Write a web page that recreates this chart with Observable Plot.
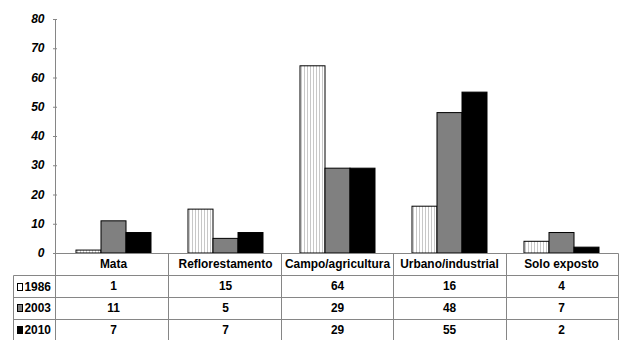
<!DOCTYPE html>
<html>
<head>
<meta charset="utf-8">
<script src="https://cdn.jsdelivr.net/npm/d3@7"></script>
<script src="https://cdn.jsdelivr.net/npm/@observablehq/plot@0.6"></script>
<style>
  body { margin: 0; background: #fff; }
  #chart svg { display: block; }
</style>
</head>
<body>
<div id="chart"></div>
<script>
// Land-use classes and the share (%) of each class per survey year
const categories = ["Mata", "Reflorestamento", "Campo/agricultura", "Urbano/industrial", "Solo exposto"];
const years = ["1986", "2003", "2010"];
const values1986 = [1, 15, 64, 16, 4];
const values2003 = [11, 5, 29, 48, 7];
const values2010 = [7, 7, 29, 55, 2];
const yTicks = [0, 10, 20, 30, 40, 50, 60, 70, 80];
const seriesFills = ["url(#hatch1986)", "#808080", "#000000"];

const seriesValues = [values1986, values2003, values2010];
const rows = years.flatMap((yr, s) =>
  categories.map((c, i) => ({category: c, year: yr, value: seriesValues[s][i]}))
);

const W = 622, H = 340;
const mL = 55, mR = 3, mT = 19, mB = 87;
const rowH = mB / 4;            // header row + one row per year
const tableLeft = 13;           // left edge of the legend column
const lineColor = "#868686";
const font = "'Liberation Sans',Arial,sans-serif";
const tableFontSize = 12.8;
const condense = 0.93;          // horizontal squeeze of the table lettering

const tableStyle = {fontSize: tableFontSize, fontWeight: "bold", fill: "#000", lineAnchor: "middle", frameAnchor: "bottom"};

const chart = Plot.plot({
  width: W,
  height: H,
  marginLeft: mL,
  marginRight: mR,
  marginTop: mT,
  marginBottom: mB,
  style: {fontFamily: font, background: "#fff", overflow: "visible"},
  fx: {domain: categories, paddingInner: 0, paddingOuter: 0, axis: null, label: null},
  x: {domain: years, paddingInner: 0, paddingOuter: 0.73, axis: null, label: null},
  y: {domain: [0, 80], axis: null, label: null},
  color: {domain: years, range: seriesFills},
  marks: [
    // value axis ticks (labels are added after rendering)
    Plot.axisY({
      ticks: yTicks,
      tickSize: 4,
      tickFormat: () => "",
      stroke: lineColor,
      label: null
    }),
    Plot.barY(rows, {fx: "category", x: "year", y: "value", fill: "year", stroke: "#000", strokeWidth: 1}),
    // data table: category header row, then one row of values per year
    Plot.text(categories, {fx: d => d, text: d => d, dy: rowH * 0.5, ...tableStyle}),
    ...years.map((yr, s) =>
      Plot.text(rows.filter(d => d.year === yr), {fx: "category", text: d => String(d.value), dy: rowH * (s + 1.5), ...tableStyle})
    )
  ]
});

document.getElementById("chart").appendChild(chart);
const svg = d3.select(chart);

// hatch pattern for the 1986 bars
svg.insert("defs", ":first-child").html(
  `<pattern id="hatch1986" patternUnits="userSpaceOnUse" width="3" height="6">
     <rect width="3" height="6" fill="#ffffff"/>
     <rect x="0" width="1" height="6" fill="#c8c8c8"/>
   </pattern>`
);

// narrow lettering for the table text drawn by Plot
svg.selectAll("text").each(function() {
  const len = this.getComputedTextLength();
  if (len > 0) {
    this.setAttribute("textLength", (len * condense).toFixed(2));
    this.setAttribute("lengthAdjust", "spacingAndGlyphs");
  }
});

// scales of the rendered chart
const fxInfo = chart.scale("fx");
const yInfo = chart.scale("y");
const fxBand = d3.scaleBand(fxInfo.domain, fxInfo.range)
  .paddingInner(fxInfo.paddingInner ?? 0)
  .paddingOuter(fxInfo.paddingOuter ?? 0)
  .align(fxInfo.align ?? 0.5);
const yLin = d3.scaleLinear(yInfo.domain, yInfo.range);
const y0 = Math.round(yLin(0)) + 0.5;
const xLeft = Math.round(fxBand(categories[0])) + 0.5;
const xRight = Math.round(fxBand(categories[categories.length - 1]) + fxBand.bandwidth()) - 0.5;

// value axis labels: bold italic
svg.append("g")
  .attr("font-family", font)
  .attr("font-size", 12)
  .attr("font-weight", "bold")
  .attr("font-style", "italic")
  .attr("text-anchor", "end")
  .attr("fill", "#000")
  .selectAll("text")
  .data(yTicks)
  .join("text")
  .attr("x", xLeft - 11)
  .attr("y", d => yLin(d))
  .attr("dy", "0.35em")
  .style("font-weight", "bold")
  .style("font-style", "italic")
  .text(d => String(d));

const grid = svg.append("g").attr("stroke", lineColor).attr("stroke-width", 1).attr("fill", "none");
// value axis line, running down through the table
grid.append("line").attr("x1", xLeft).attr("x2", xLeft).attr("y1", Math.round(yLin(80))).attr("y2", H);
// baseline / table top
grid.append("line").attr("x1", xLeft).attr("x2", xRight).attr("y1", y0).attr("y2", y0);
// row separators
years.forEach((yr, s) => {
  const yy = Math.round(y0 + rowH * (s + 1)) + 0.5;
  grid.append("line").attr("x1", tableLeft + 0.5).attr("x2", xRight).attr("y1", yy).attr("y2", yy);
});
// column separators and right edge
categories.slice(1).forEach(c => {
  const xx = Math.round(fxBand(c)) + 0.5;
  grid.append("line").attr("x1", xx).attr("x2", xx).attr("y1", y0).attr("y2", H);
});
grid.append("line").attr("x1", xRight).attr("x2", xRight).attr("y1", y0).attr("y2", H);
// legend column left edge
grid.append("line").attr("x1", tableLeft + 0.5).attr("x2", tableLeft + 0.5).attr("y1", Math.round(y0 + rowH) + 0.5).attr("y2", H);

// legend keys in the first column of the table
const keyFills = ["#ffffff", "#808080", "#000000"];
const legend = svg.append("g").attr("class", "table-legend");
years.forEach((yr, s) => {
  const cy = y0 + rowH * (s + 1.5);
  legend.append("rect")
    .attr("x", tableLeft + 4.5).attr("y", Math.round(cy - 3.5) + 0.5)
    .attr("width", 5).attr("height", 7)
    .attr("fill", keyFills[s]).attr("stroke", "#000").attr("stroke-width", 1);
  const t = legend.append("text")
    .attr("x", tableLeft + 11.5).attr("y", cy)
    .attr("dy", "0.36em")
    .attr("text-anchor", "start")
    .attr("font-size", tableFontSize).attr("font-weight", "bold")
    .attr("fill", "#000")
    .text(yr);
  const len = t.node().getComputedTextLength();
  if (len > 0) t.attr("textLength", (len * condense).toFixed(2)).attr("lengthAdjust", "spacingAndGlyphs");
});
</script>
</body>
</html>
